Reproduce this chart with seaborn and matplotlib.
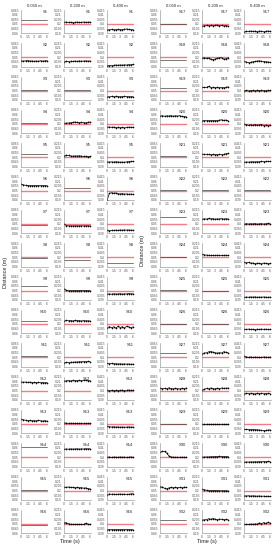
import numpy as np
import pandas as pd
import matplotlib
matplotlib.use("Agg")
import matplotlib.pyplot as plt
from matplotlib.ticker import FuncFormatter
import seaborn as sns

# distancias objetivo de cada columna (m)
TARGETS = [0.05, 0.2, 0.4]
COL_TITLES = ["0.050 m", "0.200 m", "0.400 m"]
X_TICKS = [0, 1.5, 3, 4.5, 6]

# desviacion leida respecto al objetivo, en mm, por sensor: [col 0.05, col 0.2, col 0.4]
# listas de 2 valores = linea plana sin marcadores, 13 valores = muestras cada 0.5 s
S1 = [[4.6, 4.6],
      [1.8, 2.1, 1.6, 1.9, 1.5, 1.8, 2.0, 1.6, 1.7, 2.1, 1.8, 1.9, 2.0],
      [-6.0, -6.3, -5.9, -6.2, -6.1, -5.8, -6.2, -6.0, -5.6, -5.4, -5.9, -6.1, -6.0]]
S2 = [[-3.6, -4.1, -3.8, -3.5, -4.0, -3.9, -4.3, -4.0, -4.2, -3.7, -4.1, -3.8, -3.5],
      [-4.5, -4.2, -4.6, -4.1, -4.4, -4.0, -4.3, -3.9, -4.2, -4.0, -3.8, -4.1, -3.9],
      [-9.0, -8.8, -8.9, -8.6, -8.3, -8.5, -8.2, -8.4, -8.1, -8.3, -7.9, -8.0, -7.6]]
S3 = [[0.7, 0.7],
      [0.2, 0.2],
      [-6.3, -6.8, -6.2, -6.5, -6.0, -6.4, -6.6, -6.3, -6.1, -6.5, -6.4, -6.6, -6.3]]
S4 = [[1.2, 1.2],
      [0.6, 0.9, 1.1, 1.3, 1.8, 2.1, 1.6, 1.4, 1.8, 1.5, 1.2, 1.9, 2.0],
      [-3.5, -3.2, -3.6, -3.4, -3.8, -3.5, -3.9, -3.6, -4.2, -3.7, -3.4, -3.6, -3.5]]
S5 = [[3.9, 3.9],
      [1.6, 2.3, 2.0, 1.4, 1.2, 1.5, 1.3, 1.6, 1.2, 1.0, 1.1, 0.8, 0.9],
      [-4.8, -5.1, -4.9, -5.2, -4.8, -5.0, -5.3, -5.1, -5.4, -4.9, -4.6, -4.5, -4.4]]
S6 = [[7.0, 6.2, 5.7, 5.5, 5.4, 5.4, 5.4, 5.4, 5.4, 5.3, 5.4, 5.4, 5.3],
      [2.5, 2.5],
      [-10.0, -3.0, -2.2, -2.8, -2.5, -3.3, -3.6, -3.2, -3.8, -3.5, -3.9, -3.7, -3.9]]
S7 = [[-1.0, -1.0],
      [0.0, -1.8, -2.0, -2.0, -2.1, -2.0, -2.0, -2.1, -2.0, -2.0, -2.0, -2.0, -2.0],
      [-6.9, -7.3, -6.8, -7.0, -6.6, -6.9, -6.5, -6.7, -6.4, -6.6, -6.5, -6.7, -6.6]]
S8 = [[-0.8, -0.8],
      [-2.9, -2.9],
      [-5.7, -5.7]]
S9 = [[5.0, 5.0],
      [2.0, 0.3, 0.0, -0.1, 0.0, 0.0, -0.1, 0.0, 0.0, 0.1, 0.0, -0.1, 0.0],
      [-3.8, -3.5, -3.9, -3.4, -3.7, -3.6, -3.3, -3.8, -3.5, -3.6, -3.2, -3.5, -3.4]]
S10 = [[3.6, 3.6],
       [3.0, 3.9, 3.4, 3.7, 3.2, 3.8, 3.5, 3.6, 3.1, 3.7, 3.3, 3.4, 3.2],
       [-4.5, -2.8, -4.1, -3.0, -4.6, -2.6, -3.9, -2.9, -4.4, -2.5, -3.2, -4.0, -3.1]]
S11 = [[1.0, 1.0],
       [-5.8, -5.5, -5.7, -5.2, -5.4, -5.0, -5.1, -4.8, -4.9, -4.6, -4.7, -4.5, -4.6],
       [-6.5, -6.8, -6.6, -7.0, -6.9, -7.2, -7.0, -7.3, -7.1, -7.4, -7.2, -7.5, -7.3]]
S12 = [[9.3, 9.0, 9.2, 8.8, 9.1, 8.7, 8.9, 8.6, 8.8, 8.5, 8.7, 8.4, 8.6],
       [10.2, 10.5, 10.8, 10.4, 10.9, 10.6, 10.7, 11.0, 10.6, 10.9, 11.1, 10.8, 10.7],
       [0.2, -0.2, 0.3, 0.0, 0.4, -0.1, 0.2, 0.5, 0.1, 0.3, 0.6, 0.2, 0.4]]
S13 = [[5.0, 4.4, 4.0, 3.5, 3.8, 3.3, 3.6, 3.2, 3.7, 3.4, 3.1, 3.5, 3.0],
       [1.2, 0.8, 0.7, 0.7, 0.7, 0.7, 0.7, 0.6, 0.7, 0.7, 0.6, 0.7, 0.7],
       [-2.4, -3.0, -3.3, -3.1, -3.4, -3.2, -3.5, -3.3, -3.6, -3.4, -3.2, -3.5, -3.3]]
S14 = [[10.7, 10.7],
       [8.6, 8.9, 8.7, 9.0, 8.8, 8.9, 9.1, 8.8, 9.0, 8.9, 9.2, 9.0, 9.1],
       [0.0, 0.3, -0.2, 0.2, 0.1, -0.1, 0.3, 0.0, 0.2, -0.2, 0.1, 0.3, 0.0]]
S15 = [[0.2, 0.2],
       [3.8, 3.5, 3.9, 3.4, 3.6, 3.2, 3.5, 3.0, 3.2, 2.6, 2.9, 2.2, 1.8],
       [-4.2, -3.6, -4.0, -3.8, -4.1, -3.9, -3.7, -4.0, -3.8, -4.1, -3.9, -3.6, -3.3]]
S16 = [[-1.0, -1.0],
       [1.5, 1.2, 0.2, -0.3, -0.5, -0.6, -0.6, -0.6, -0.5, -0.6, 0.8, -0.4, -0.5],
       [-6.1, -6.2, -6.0, -6.1, -6.2, -6.1, -6.0, -6.2, -6.1, -6.0, -6.1, -6.2, -6.1]]
S17 = [[0.1, 0.1],
       [-2.6, -1.8, -1.5, -2.0, -1.4, -1.9, -1.6, -1.2, -1.8, -1.5, -2.1, -1.7, -2.2],
       [-8.2, -7.8, -8.0, -7.6, -7.9, -7.7, -8.1, -7.6, -7.9, -8.2, -7.8, -7.6, -7.9]]
S18 = [[-2.5, -2.5],
       [-1.0, -0.6, -1.2, -0.8, -2.2, -2.6, -1.8, -1.2, -0.6, -0.4, -2.0, -1.6, -0.5],
       [-4.4, -5.2, -5.6, -5.3, -4.9, -4.4, -4.0, -3.8, -4.2, -4.5, -4.8, -5.0, -5.4]]
S19 = [[3.2, 3.2],
       [3.6, 3.4, 3.5, 4.8, 3.3, 3.4, 3.3, 3.4, 3.3, 3.2, 3.3, 3.4, 4.2],
       [0.0, 0.3, -0.3, 0.1, 0.2, -0.2, 0.3, 0.0, 0.2, 0.1, -0.1, 0.3, 0.2]]
S20 = [[8.4, 8.9, 8.2, 8.7, 8.5, 9.0, 8.3, 8.8, 8.4, 8.9, 8.1, 8.0, 7.8],
       [3.6, 3.6, 3.6, 3.6, 3.6, 3.6, 3.6, 3.6, 4.1, 4.5, 3.8, 4.2, 3.5],
       [0.0, -0.8, -1.6, -0.9, -1.5, -0.7, -1.4, -1.1, -0.6, -1.8, -1.2, -1.9, -1.5]]
S21 = [[1.4, 1.4],
       [3.4, 3.2, 3.1, 3.1, 3.0, 3.1, 3.0, 3.0, 3.1, 3.0, 3.2, 3.8, 4.4],
       [-5.3, -5.0, -5.2, -4.9, -4.8, -5.0, -4.7, -4.9, -4.5, -4.7, -4.4, -4.3, -4.4]]
S22 = [[0.2, 0.2],
       [0.2, 0.2],
       [0.2, 0.2]]
S23 = [[7.9, 7.9],
       [5.0, 5.6, 5.2, 5.9, 5.4, 5.7, 5.1, 5.5, 5.3, 5.8, 5.2, 5.6, 5.4],
       [-0.2, 0.3, -0.1, 0.2, 0.0, 0.4, -0.2, 0.1, 0.3, -0.1, 0.2, 0.5, 0.1]]
S24 = [[0.3, 0.3],
       [3.2, 2.6, 2.3, 2.2, 2.0, 2.1, 2.0, 2.2, 2.1, 2.0, 2.1, 2.2, 2.0],
       [-5.2, -6.0, -5.5, -6.4, -6.1, -6.8, -6.3, -6.6, -7.0, -6.2, -6.5, -6.9, -6.4]]
S25 = [[1.0, 1.0],
       [0.0, 0.0],
       [-7.2, -6.9, -7.1, -6.8, -7.0, -6.7, -7.2, -6.9, -7.1, -6.8, -7.0, -7.2, -6.9]]
S26 = [[-0.4, -0.4],
       [-0.5, -0.5],
       [-5.6, -5.9, -5.5, -5.8, -5.7, -6.0, -5.6, -5.9, -5.5, -5.8, -5.6, -5.9, -5.7]]
S27 = [[4.3, 4.3],
       [4.0, 4.6, 4.8, 5.9, 6.2, 5.5, 4.8, 4.5, 4.9, 4.6, 6.0, 5.4, 5.0],
       [1.2, 0.4, -0.1, 0.3, -0.2, 0.2, -0.1, 0.0, -0.2, 0.3, 0.1, -0.1, 0.2]]
S28 = [[2.8, 2.0, 2.4, 1.8, 3.0, 2.2, 1.9, 2.4, 2.1, 1.8, 2.3, 2.0, 2.9],
       [0.6, 1.5, 2.4, 1.8, 2.9, 2.2, 1.9, 2.6, 2.1, 2.8, 2.4, 2.6, 2.7],
       [-3.4, -3.0, -3.3, -2.9, -3.2, -3.5, -3.1, -3.3, -3.0, -3.4, -3.2, -3.0, -3.3]]
S29 = [[0.0, 0.0],
       [-0.4, -0.6, -0.5, -0.4, -0.6, -0.5, -0.4, -0.5, -0.6, -0.4, -0.5, -0.6, -0.5],
       [-5.8, -5.9, -6.0, -6.1, -6.0, -6.2, -6.3, -6.5, -6.9, -7.2, -7.0, -6.6, -6.4]]
S30 = [[5.2, 6.5, 6.2, 4.5, 1.5, 0.3, 0.1, 0.0, 0.0, 0.0, 0.0, 0.0, 0.0],
       [0.3, 0.2, 0.4, 0.3, 0.6, 0.5, 0.8, 0.6, 0.9, 0.7, 0.8, 0.6, 0.7],
       [-5.3, -5.0, -5.2, -4.9, -5.1, -4.8, -5.0, -4.7, -4.9, -4.6, -4.8, -4.5, -4.7]]
S31 = [[4.2, 3.8, 2.4, 1.8, 2.9, 3.4, 3.0, 3.6, 3.2, 3.5, 3.3, 3.7, 3.5],
       [1.6, 1.0, 0.3, 0.1, 0.0, 0.0, 0.0, -0.1, -0.1, -0.2, -0.2, -0.2, -0.3],
       [-5.4, -5.8, -5.5, -5.9, -5.6, -5.8, -6.0, -5.7, -6.1, -5.9, -6.2, -6.0, -6.3]]
S32 = [[4.3, 4.3],
       [4.2, 4.4, 4.6, 5.6, 5.0, 5.8, 5.1, 4.7, 5.2, 4.9, 4.6, 4.8, 4.5],
       [-0.6, -0.4, -0.5, -0.2, -0.4, 0.0, -0.3, 1.1, 0.3, 1.4, 0.5, 1.6, 0.8]]

SENSORES = [S1, S2, S3, S4, S5, S6, S7, S8, S9, S10, S11, S12, S13, S14, S15, S16,
            S17, S18, S19, S20, S21, S22, S23, S24, S25, S26, S27, S28, S29, S30, S31, S32]

# tabla larga para seaborn
filas = []
for k, sensor in enumerate(SENSORES):
    for c, serie in enumerate(sensor):
        tiempos = np.linspace(0, 6, len(serie))
        for t, v in zip(tiempos, serie):
            filas.append({"sensor": k + 1, "col": c, "t": t,
                          "dist": TARGETS[c] + v / 1000.0, "n": len(serie)})
df = pd.DataFrame(filas)

sns.set_style("white")
plt.rcParams["font.family"] = ["Liberation Sans", "DejaVu Sans"]

W, H = 277, 550
fig = plt.figure(figsize=(W / 100, H / 100), dpi=100)

LEFT_X = [21, 64, 107]
RIGHT_X = [160, 202, 244]
AX_W = 27
AX_H = 23.3
ROW_STEP = 33.33
TOP0 = 10

fmt = FuncFormatter(lambda v, p: f"{v:g}")

for k in range(32):
    fila = k % 16
    xs = LEFT_X if k < 16 else RIGHT_X
    for c in range(3):
        top = TOP0 + ROW_STEP * fila
        ax = fig.add_axes([xs[c] / W, 1 - (top + AX_H) / H, AX_W / W, AX_H / H])
        sub = df[(df.sensor == k + 1) & (df.col == c)]
        tgt = TARGETS[c]
        ax.axhline(tgt, color="#f47c88", lw=1.0, zorder=1)
        plano = sub["n"].iloc[0] == 2
        sns.lineplot(data=sub, x="t", y="dist", ax=ax, color="#444444" if plano else "black",
                     lw=0.5, marker=None if plano else "o", markersize=1.2,
                     markeredgewidth=0, zorder=2)
        ax.set_xlim(-0.05, 6.2)
        ax.set_ylim(tgt - 0.01, tgt + 0.015)
        ax.set_yticks([tgt - 0.01 + 0.005 * i for i in range(6)])
        ax.set_xticks(X_TICKS)
        ax.yaxis.set_major_formatter(fmt)
        ax.xaxis.set_major_formatter(fmt)
        ax.tick_params(labelsize=2.4, length=1.4, width=0.3, pad=0.8,
                       direction="inout", colors="#555555")
        ax.set_xlabel("")
        ax.set_ylabel("")
        for s in ["top", "right"]:
            ax.spines[s].set_visible(False)
        for s in ["left", "bottom"]:
            ax.spines[s].set_linewidth(0.4)
            ax.spines[s].set_color("#888888")
        ax.text(0.98, 1.0, f"S{k + 1}", transform=ax.transAxes, ha="right",
                va="top", fontsize=3.0, color="#222222")
        if fila == 0:
            ax.set_title(COL_TITLES[c], fontsize=3.0, pad=2.5, color="#222222")

fig.text(3 / W, 1 - 272 / H, "Distance (m)", rotation=90, ha="left", va="center",
         fontsize=4.0, color="#222222")
fig.text(140 / W, 1 - 250 / H, "Distance (m)", rotation=90, ha="left", va="center",
         fontsize=4.0, color="#222222")
fig.text(70 / W, 1 - 542 / H, "Time (s)", ha="center", va="center",
         fontsize=4.0, color="#222222")
fig.text(207 / W, 1 - 542 / H, "Time (s)", ha="center", va="center",
         fontsize=4.0, color="#222222")

fig.savefig("out.png", dpi=100, facecolor="white")
